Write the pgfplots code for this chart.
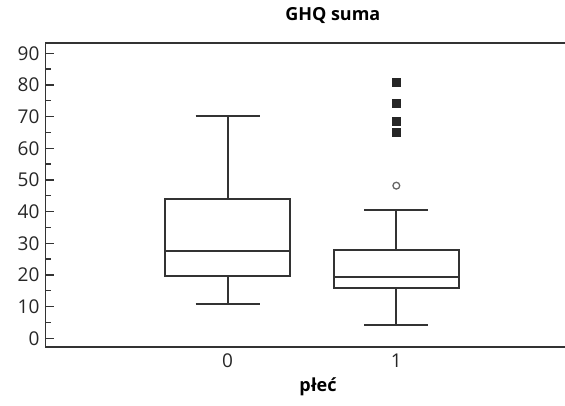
\documentclass[border=0pt]{standalone}
\usepackage{fontspec}
\setmainfont{Open Sans}
\usepackage{pgfplots}
\pgfplotsset{compat=1.18}
\usepgfplotslibrary{statistics}
\definecolor{ln}{HTML}{333333}
\begin{document}
\begin{tikzpicture}
\useasboundingbox (0pt,0pt) rectangle (565pt,405pt);
\clip (0pt,0pt) rectangle (565pt,405pt);
\begin{axis}[
  at={(45.5pt,58pt)}, anchor=south west,
  scale only axis, width=520.5pt, height=304pt,
  xmin=-1.08, xmax=2.006, ymin=-2.75, ymax=93.25,
  boxplot/draw direction=y,
  boxplot/every box/.style={draw=ln, line width=1.8pt, fill=white},
  boxplot/every whisker/.style={draw=ln, line width=1.8pt},
  boxplot/every median/.style={draw=ln, line width=1.8pt},
  axis line style={draw=ln, line width=1.4pt},
  xtick={0,1}, xticklabels={0,1}, xtick style={draw=none},
  ytick={0,10,...,90}, minor y tick num=1,
  ytick pos=left, tick align=inside,
  major tick length=8pt, minor tick length=5pt,
  y tick style={draw=ln, line width=1.3pt},
  tick label style={font=\fontsize{19}{22}\selectfont, text=black!85},
  /pgf/number format/assume math mode=true,
  yticklabel style={xshift=-2.5pt},
  xticklabel style={yshift=-3pt},
  title={\textbf{GHQ suma}},
  title style={at={(rel axis cs:0.552,1)}, anchor=center, yshift=21pt, font=\fontsize{18}{22}\selectfont},
  xlabel={\textbf{płeć}},
  xlabel style={at={(rel axis cs:0.5235,0)}, anchor=center, yshift=-39.7pt, font=\fontsize{18}{22}\selectfont},
  clip=false,
]
\addplot[boxplot prepared={draw position=0, lower whisker=10.8, lower quartile=19.7, median=27.6, upper quartile=43.9, upper whisker=70.1, box extend=0.74, whisker extend=0.38}, draw=ln, line width=1.8pt, solid] coordinates {};
\addplot[boxplot prepared={draw position=1, lower whisker=4.1, lower quartile=15.8, median=19.4, upper quartile=27.8, upper whisker=40.4, box extend=0.74, whisker extend=0.38}, draw=ln, line width=1.8pt, solid] coordinates {};
\addplot[only marks, mark=square*, mark size=4pt, mark options={draw=black!85, fill=black!85, line width=0.5pt}] coordinates {(1,81.0) (1,74.2) (1,68.6) (1,65.2)};
\addplot[only marks, mark=o, mark size=3.4pt, mark options={draw=black!60, line width=1.3pt}] coordinates {(1,48.2)};
\end{axis}
\end{tikzpicture}
\end{document}
